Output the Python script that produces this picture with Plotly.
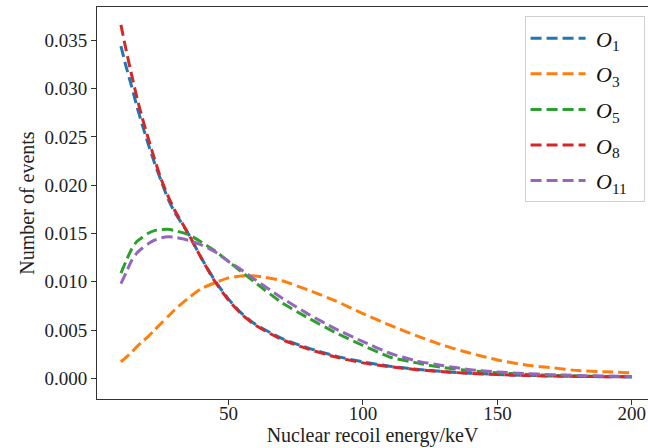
import plotly.graph_objects as go

energy = [10, 12, 14, 16, 18, 20, 22.5, 25, 27.5, 30, 35, 40, 45, 50, 55, 60, 70, 80, 90,
          100, 110, 120, 130, 140, 150, 160, 170, 180, 190, 200]

o1 = [0.0344, 0.0322, 0.0302, 0.0281, 0.0262, 0.0244, 0.0223, 0.0204, 0.0186, 0.0172, 0.0150,
      0.0124, 0.0101, 0.0082, 0.0067, 0.0056, 0.0041, 0.0031, 0.0023, 0.0017, 0.00125, 0.00094,
      0.0007, 0.00053, 0.0004, 0.00031, 0.00025, 0.0002, 0.00017, 0.00015]
o3 = [0.0017, 0.0022, 0.0027, 0.0033, 0.0038, 0.0043, 0.0050, 0.0057, 0.0064, 0.0071, 0.0083,
      0.0093, 0.0099, 0.0104, 0.0106, 0.0106, 0.0101, 0.0091, 0.0080, 0.0067, 0.0055, 0.0044,
      0.0034, 0.0026, 0.0019, 0.0014, 0.0011, 0.0008, 0.00068, 0.00058]
o5 = [0.0109, 0.0122, 0.0134, 0.0142, 0.0146, 0.0150, 0.0153, 0.0154, 0.01543, 0.0153, 0.0149,
      0.0141, 0.0132, 0.0121, 0.0110, 0.0099, 0.0078, 0.0062, 0.0047, 0.0034, 0.0022, 0.0016,
      0.0011, 0.0008, 0.00058, 0.00042, 0.00032, 0.00025, 0.0002, 0.00017]
o8 = [0.0366, 0.0339, 0.0314, 0.0290, 0.0269, 0.0250, 0.0227, 0.0206, 0.0189, 0.0174, 0.0150,
      0.0124, 0.0100, 0.0081, 0.0066, 0.0055, 0.0040, 0.0030, 0.0022, 0.0016, 0.0012, 0.0009,
      0.00068, 0.00051, 0.00039, 0.0003, 0.00024, 0.0002, 0.00017, 0.00015]
o11 = [0.0098, 0.0110, 0.0122, 0.0130, 0.0135, 0.0139, 0.0143, 0.01455, 0.01466, 0.0146, 0.0143,
       0.0138, 0.0131, 0.0121, 0.0112, 0.0102, 0.0083, 0.0066, 0.0051, 0.0038, 0.0026, 0.0018,
       0.0013, 0.0009, 0.00066, 0.0005, 0.00038, 0.0003, 0.00024, 0.0002]

labels = ["\u00a0<i>O</i><sub>1</sub>", "\u00a0<i>O</i><sub>3</sub>", "\u00a0<i>O</i><sub>5</sub>",
          "\u00a0<i>O</i><sub>8</sub>", "\u00a0<i>O</i><sub>11</sub>\u00a0\u00a0"]
series = [o1, o3, o5, o8, o11]
colors = ["#1f77b4", "#ff7f0e", "#2ca02c", "#d62728", "#9467bd"]

x_ticks = [50, 100, 150, 200]
y_ticks = [0.0, 0.005, 0.010, 0.015, 0.020, 0.025, 0.030, 0.035]
y_tick_text = ["0.000", "0.005", "0.010", "0.015", "0.020", "0.025", "0.030", "0.035"]

FONT = "Liberation Serif"

fig = go.Figure()
for i, (lab, ys, col) in enumerate(zip(labels, series, colors)):
    fig.add_trace(go.Scatter(
        x=energy, y=ys, mode="lines", name=lab, legendgroup=str(i),
        line=dict(color=col, width=3, dash="11px,5px", shape="spline", smoothing=0.6),
    ))

axis_col = "#333333"
fig.update_layout(
    width=648, height=448,
    margin=dict(l=97, r=0, t=7, b=49, autoexpand=False),
    paper_bgcolor="white", plot_bgcolor="white",
    font=dict(family=FONT, size=19, color="#222222"),
    showlegend=True,
    legend=dict(
        x=0.776, y=0.976, xanchor="left", yanchor="top",
        bgcolor="rgba(255,255,255,0.8)", bordercolor="#d0d0d0", borderwidth=1,
        font=dict(family=FONT, size=22, color="#111111"),
        tracegroupgap=4, itemwidth=55,
    ),
    xaxis=dict(
        range=[1.1, 206], tickvals=x_ticks, ticktext=[str(v) for v in x_ticks],
        showgrid=False, zeroline=False, automargin=False,
        showline=True, linecolor=axis_col, linewidth=1, mirror=True,
        ticks="outside", ticklen=5, tickcolor=axis_col, tickwidth=1,
        tickfont=dict(family=FONT, size=19), ticklabelstandoff=-8,
        title=dict(text="Nuclear recoil energy/keV", font=dict(family=FONT, size=20), standoff=2),
    ),
    yaxis=dict(
        range=[-0.00214, 0.03845], tickvals=y_ticks, ticktext=y_tick_text,
        showgrid=False, zeroline=False, automargin=False,
        showline=True, linecolor=axis_col, linewidth=1, mirror=False,
        ticks="outside", ticklen=5, tickcolor=axis_col, tickwidth=1,
        tickfont=dict(family=FONT, size=19),
        title=dict(text="Number of events", font=dict(family=FONT, size=20), standoff=4),
    ),
)

fig.write_html("out.html", config={"displayModeBar": False},
               post_script="document.body.style.margin='0';")
